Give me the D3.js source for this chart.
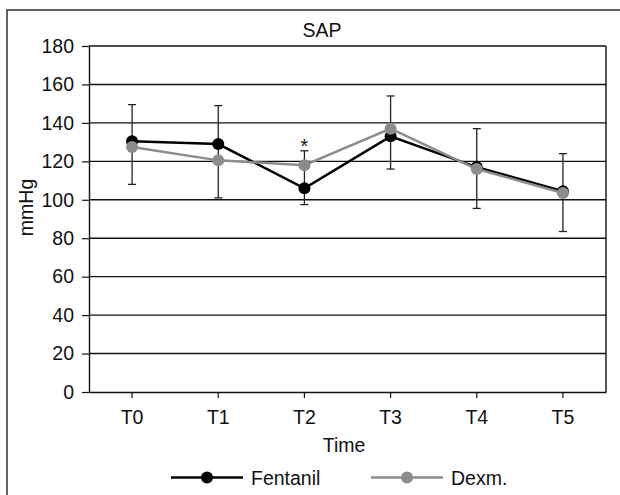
<!DOCTYPE html>
<html>
<head>
<meta charset="utf-8">
<script src="https://cdn.jsdelivr.net/npm/d3@7"></script>
<style>
  body { margin: 0; background: #fff; }
  text { font-family: "Liberation Sans", Arial, sans-serif; fill: #111; }
</style>
</head>
<body>
<svg id="chart"></svg>
<script>
// data
const times = ["T0", "T1", "T2", "T3", "T4", "T5"];
const fentanil = [130.5, 129, 106, 133, 117, 104.5];
const dexm = [127.5, 120.5, 118, 137, 116, 103.5];
const errHigh = [149.5, 149, 125.5, 154, 137, 124];
const errLow = [108, 101, 97.5, 116, 95.5, 83.5];
const yTicks = [0, 20, 40, 60, 80, 100, 120, 140, 160, 180];

const width = 620, height = 495;
const margin = {top: 46, right: 14, bottom: 103, left: 89};
const fs = 19.5;

const svg = d3.select("#chart").attr("width", width).attr("height", height);

// outer frame (only top + left visible in reference)
svg.append("rect")
    .attr("x", 7).attr("y", 10)
    .attr("width", 640).attr("height", 520)
    .attr("fill", "none").attr("stroke", "#333").attr("stroke-width", 1.5);

const x = d3.scaleBand().domain(times).range([margin.left, width - margin.right]);
const y = d3.scaleLinear().domain([0, 180]).range([height - margin.bottom, margin.top]);

// gridlines
svg.append("g").selectAll("line")
    .data(yTicks.slice(1))
    .enter().append("line")
    .attr("x1", margin.left).attr("x2", width - margin.right)
    .attr("y1", d => y(d)).attr("y2", d => y(d))
    .attr("stroke", "#111").attr("stroke-width", 1.4);

// right border of plot
svg.append("line")
    .attr("x1", width - margin.right).attr("x2", width - margin.right)
    .attr("y1", y(180)).attr("y2", y(0))
    .attr("stroke", "#111").attr("stroke-width", 1.4);

// axes
const yAxis = svg.append("g")
    .attr("transform", `translate(${margin.left},0)`)
    .call(d3.axisLeft(y).tickValues(yTicks).tickSize(7).tickPadding(8).tickSizeOuter(0));
const xAxis = svg.append("g")
    .attr("transform", `translate(0,${y(0)})`)
    .call(d3.axisBottom(x).tickSize(6).tickPadding(12).tickSizeOuter(0));
[yAxis, xAxis].forEach(g => {
    g.attr("font-size", fs);
    g.select(".domain").attr("stroke", "#111").attr("stroke-width", 1.4);
    g.selectAll(".tick line").attr("stroke", "#111").attr("stroke-width", 1.2);
    g.selectAll("text").attr("font-size", fs).attr("fill", "#111")
        .style("font-family", '"Liberation Sans", Arial, sans-serif');
});

const cx = d => x(d) + x.bandwidth() / 2;

// error bars
const eb = svg.append("g").selectAll("g")
    .data(times)
    .enter().append("g");
eb.append("line")
    .attr("x1", d => cx(d)).attr("x2", d => cx(d))
    .attr("y1", (d, i) => y(errHigh[i])).attr("y2", (d, i) => y(errLow[i]))
    .attr("stroke", "#222").attr("stroke-width", 1.3);
eb.append("line")
    .attr("x1", d => cx(d) - 4).attr("x2", d => cx(d) + 4)
    .attr("y1", (d, i) => y(errHigh[i])).attr("y2", (d, i) => y(errHigh[i]))
    .attr("stroke", "#222").attr("stroke-width", 1.3);
eb.append("line")
    .attr("x1", d => cx(d) - 4).attr("x2", d => cx(d) + 4)
    .attr("y1", (d, i) => y(errLow[i])).attr("y2", (d, i) => y(errLow[i]))
    .attr("stroke", "#222").attr("stroke-width", 1.3);

// series
const series = [
    {name: "Fentanil", values: fentanil, color: "#000"},
    {name: "Dexm.", values: dexm, color: "#8c8c8c"}
];
const line = d3.line().x(d => cx(d.t)).y(d => y(d.v));

series.forEach(s => {
    const pts = times.map((t, i) => ({t: t, v: s.values[i]}));
    svg.append("path")
        .datum(pts)
        .attr("d", line)
        .attr("fill", "none")
        .attr("stroke", s.color)
        .attr("stroke-width", 2.5);
    svg.append("g").selectAll("circle")
        .data(pts)
        .enter().append("circle")
        .attr("cx", d => cx(d.t)).attr("cy", d => y(d.v))
        .attr("r", 6)
        .attr("fill", s.color);
});

// asterisk at T2
svg.append("text")
    .attr("x", cx("T2")).attr("y", y(errHigh[2]) + 2)
    .attr("text-anchor", "middle").attr("font-size", fs)
    .text("*");

// title and axis labels
svg.append("text")
    .attr("x", 322).attr("y", 37)
    .attr("text-anchor", "middle").attr("font-size", fs)
    .text("SAP");
svg.append("text")
    .attr("x", 344).attr("y", 452)
    .attr("text-anchor", "middle").attr("font-size", fs)
    .text("Time");
svg.append("text")
    .attr("transform", `translate(33,${y(96)}) rotate(-90)`)
    .attr("text-anchor", "middle").attr("font-size", fs)
    .text("mmHg");

// legend
const legendX = [171, 371];
series.forEach((s, i) => {
    const g = svg.append("g").attr("transform", `translate(${legendX[i]},477.5)`);
    g.append("line").attr("x1", 0).attr("x2", 72).attr("y1", 0).attr("y2", 0)
        .attr("stroke", s.color).attr("stroke-width", 2.5);
    g.append("circle").attr("cx", 36).attr("cy", 0).attr("r", 6).attr("fill", s.color);
    g.append("text").attr("x", 80).attr("y", 7).attr("font-size", fs).text(s.name);
});
</script>
</body>
</html>
